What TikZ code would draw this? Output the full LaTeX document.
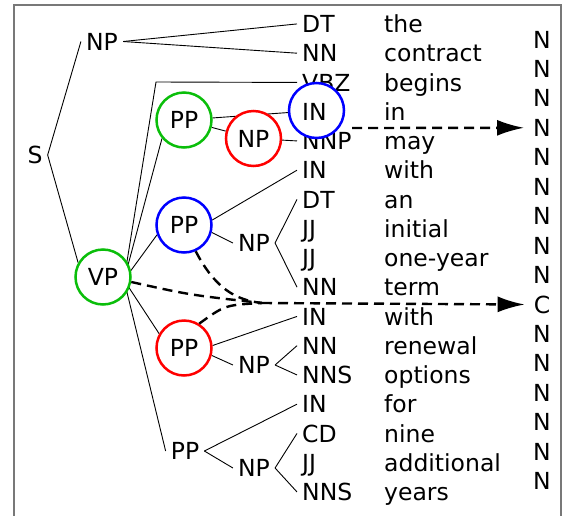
\documentclass[tikz,border=0pt]{standalone}
\usepackage{fontspec}
\setmainfont{DejaVu Sans}
\usetikzlibrary{arrows.meta}
\pgfdeclarelayer{bg}
\pgfsetlayers{bg,main}
\definecolor{ringgreen}{RGB}{10,190,10}
\definecolor{ringred}{RGB}{255,0,0}
\definecolor{ringblue}{RGB}{0,0,255}
\definecolor{framegray}{RGB}{120,120,120}
\begin{document}
\begin{tikzpicture}[x=1pt,y=-1pt, font=\fontsize{23.5}{28}\selectfont,
  lab/.style={inner sep=5pt},
  tag/.style={inner sep=5pt, anchor=base west},
  word/.style={inner sep=0pt, anchor=base west},
  outlab/.style={inner sep=0pt, anchor=base},
  treeedge/.style={line width=0.9pt},
  ring/.style={circle, draw, line width=2.5pt, fill=white, minimum size=55pt, inner sep=0pt},
  att/.style={line width=2.4pt, dash pattern=on 10pt off 6pt},
  attarrow/.style={att, -{Latex[length=27pt,width=16pt]}},
  frame/.style={draw=framegray, line width=2pt}]
\useasboundingbox (0,0) rectangle (563,515);
\begin{scope}
\clip (0,0) rectangle (563,515);
\draw[frame] (14,5) rectangle (561,540);
\end{scope}

% leaves: POS tags and words
\foreach \t/\w [count=\i from 0] in {DT/the, NN/contract, VBZ/begins, IN/in, NNP/may, IN/with, DT/an, JJ/initial, JJ/one-year, NN/term, IN/with, NN/renewal, NNS/options, IN/for, CD/nine, JJ/additional, NNS/years}{
  \ifnum\i=3 \else \node[tag] (t\i) at (297,{32.5+29.25*\i}) {\t};\fi
  \node[word] (w\i) at (384,{32.5+29.25*\i}) {\w};
}
% output labels
\foreach \l [count=\k from 0] in {N,N,N,N,N,N,N,N,N,C,N,N,N,N,N,N}{
  \node[outlab] (n\k) at (542,{48+29.45*\k}) {\l};
}

% inner nodes
\node[lab] (S) at (35,155) {S};
\node[lab] (NPa) at (102,41.5) {NP};
\node[ring, draw=ringgreen] (VP) at (103,277) {VP};
\node[ring, draw=ringgreen] (PPg) at (184,120) {PP};
\node[ring, draw=ringred] (NPr) at (253.5,138.5) {NP};
\node[ring, draw=ringblue] (INb) at (316.5,110.5) {};
\node[tag] (t3) at (297,{32.5+29.25*3}) {IN};
\node[ring, draw=ringblue] (PPb) at (184,225) {PP};
\node[lab] (NPb) at (254,243) {NP};
\node[ring, draw=ringred] (PPr) at (184,348) {PP};
\node[lab] (NPc) at (254,365) {NP};
\node[lab] (PPp) at (185,451) {PP};
\node[lab] (NPd) at (254,468) {NP};

\coordinate (vpR) at (124,280);
\coordinate (elb) at (156,82);

\begin{pgfonlayer}{bg}
\draw[treeedge] (S.east) -- (NPa.west);
\draw[treeedge] (S.east) -- (VP.150);
\draw[treeedge] (NPa.east) -- (t0.west);
\draw[treeedge] (NPa.east) -- (t1.west);
\draw[treeedge] (vpR) -- (elb) -- (t2.west);
\draw[treeedge] (vpR) -- (PPg.220);
\draw[treeedge] (vpR) -- (PPb.200);
\draw[treeedge] (vpR) -- (PPr.150);
\draw[treeedge] (vpR) -- (PPp.west);
\draw[treeedge] (PPg) -- (INb);
\draw[treeedge] (PPg) -- (NPr);
\draw[treeedge] (NPr) -- (t4.west);
\draw[treeedge] (PPb.10) -- (t5.west);
\draw[treeedge] (PPb.-15) -- (NPb.west);
\draw[treeedge] (NPb.east) -- (t6.west);
\draw[treeedge] (NPb.east) -- (t9.west);
\draw[treeedge] (PPr.5) -- (t10.west);
\draw[treeedge] (PPr.-15) -- (NPc.west);
\draw[treeedge] (NPc.east) -- (t11.west);
\draw[treeedge] (NPc.east) -- (t12.west);
\draw[treeedge] (PPp.east) -- (t13.west);
\draw[treeedge] (PPp.east) -- (NPd.west);
\draw[treeedge] (NPd.east) -- (t14.west);
\draw[treeedge] (NPd.east) -- (t16.west);
\end{pgfonlayer}

% attention arrows
\coordinate (a1s) at (352,128);
\coordinate (m) at (262,303);
\draw[attarrow] (a1s) -- ([xshift=-9pt]n3.west);
\draw[att] (VP.-10) .. controls (190,295) .. (m);
\draw[att] (PPb.-66) .. controls (215,288) and (235,300) .. (m);
\draw[att] (PPr.58) .. controls (225,305) .. (m);
\draw[attarrow] (m) -- ([xshift=-9pt]n9.west);
\end{tikzpicture}
\end{document}
